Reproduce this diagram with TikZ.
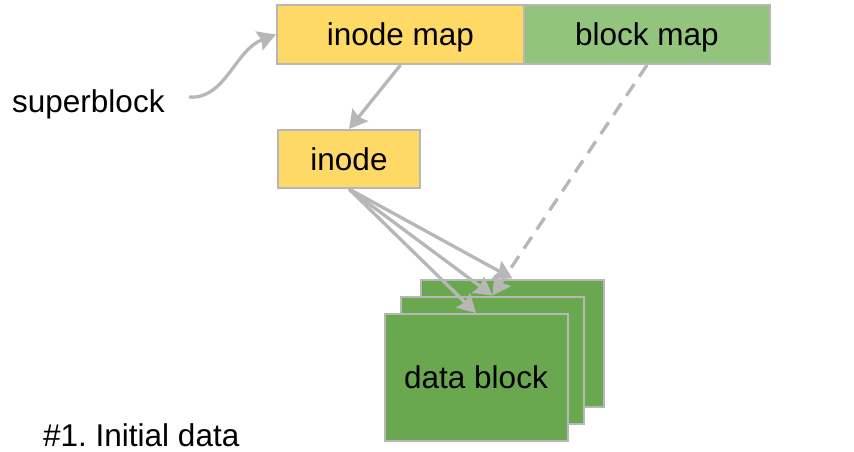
\documentclass[tikz,border=0pt]{standalone}
\usepackage{fontspec}
\setmainfont{Liberation Sans}
\usetikzlibrary{arrows.meta}
\definecolor{mapyellow}{HTML}{FFD966}
\definecolor{mapgreen}{HTML}{93C47D}
\definecolor{datagreen}{HTML}{6AA84F}
\definecolor{edgegray}{HTML}{B7B7B7}
\tikzset{
  box/.style={draw=edgegray, line width=2pt, inner sep=0pt, text=black,
    font=\fontsize{31.5}{38}\selectfont, text height=22.5pt, text depth=0pt},
  mapbox/.style={box, minimum height=59pt},
  datapage/.style={box, fill=datagreen, minimum width=183pt, minimum height=127pt},
  label/.style={inner sep=0pt, font=\fontsize{31.5}{38}\selectfont},
  link/.style={draw=edgegray, line width=3.3pt,
    -{Stealth[length=18pt, width=20pt, inset=2.5pt]}},
  weaklink/.style={link, dash pattern=on 14pt off 9pt}
}
\begin{document}
\frenchspacing
\begin{tikzpicture}[x=1pt, y=-1pt]
  \useasboundingbox (0,0) rectangle (854,452);

  % top row: the two maps
  \node[mapbox, fill=mapyellow, minimum width=247pt] (inodemap) at (400.5,34.5) {inode map};
  \node[mapbox, fill=mapgreen, minimum width=246pt] (blockmap) at (647,34.5) {block map};

  % inode
  \node[box, fill=mapyellow, minimum width=142pt, minimum height=58pt] (inode) at (349,159) {inode};

  % stack of data blocks, back to front
  \node[datapage] (dback) at (512.5,343) {};
  \node[datapage] (dmid) at (492.5,360) {};
  \node[datapage] (dfront) at (476,377.5) {data block};

  % free labels
  \node[label, anchor=base west] (superblock) at (12,112) {superblock};
  \node[label, anchor=base west] (caption) at (43,446) {\#1. Initial data};
  \coordinate (sbtail) at (189,97);

  % connectors
  \draw[link] (sbtail) .. controls (225,100) and (235,50) .. (inodemap.west);
  \draw[link] (inodemap.south) -- (inode.north);
  \draw[link] (inode.south) -- (dback.north);
  \draw[link] (inode.south) -- (dmid.north);
  \draw[link] (inode.south) -- (dfront.north);
  \draw[weaklink] (blockmap.south) -- (dmid.north);
\end{tikzpicture}
\end{document}
